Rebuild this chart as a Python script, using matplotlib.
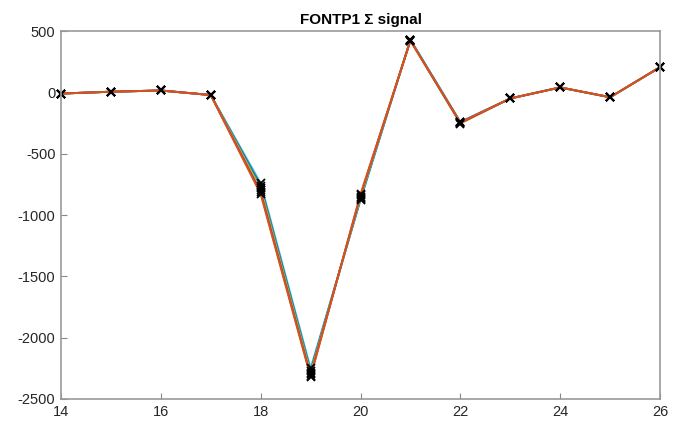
import matplotlib
matplotlib.use("Agg")
import matplotlib.pyplot as plt

plt.rcParams['font.family'] = ['Liberation Sans', 'DejaVu Sans']
plt.rcParams['axes.unicode_minus'] = False

# sample index
x = [14, 15, 16, 17, 18, 19, 20, 21, 22, 23, 24, 25, 26]

# Sigma-signal traces, one per channel
sig_a = [-10, 5, 15, -22, -740, -2250, -880, 430, -240, -50, 40, -40, 205]
sig_b = [-10, 5, 15, -22, -760, -2270, -870, 428, -245, -50, 40, -40, 205]
sig_c = [-10, 5, 15, -22, -780, -2285, -860, 426, -250, -50, 40, -40, 205]
sig_d = [-10, 5, 15, -22, -800, -2300, -850, 424, -255, -50, 40, -40, 205]
sig_e = [-10, 5, 15, -22, -815, -2310, -840, 422, -250, -50, 40, -40, 205]
sig_f = [-10, 5, 15, -22, -830, -2320, -830, 420, -245, -50, 40, -40, 205]

series = [sig_a, sig_b, sig_c, sig_d, sig_e, sig_f]
colors = ['#4DBEEE', '#0072BD', '#77AC30', '#EDB120', '#7E2F8E', '#D95319']

yticks = [500, 0, -500, -1000, -1500, -2000, -2500]
xticks = [14, 16, 18, 20, 22, 24, 26]

fig = plt.figure(figsize=(6.74, 4.22), dpi=100)
ax = fig.add_axes([61/674, 1-399/422, (660-61)/674, (399-31)/422])

for s, c in zip(series, colors):
    ax.plot(x, s, '-', color=c, lw=1.4)
for s in series:
    ax.plot(x, s, 'x', color='black', ms=6, mew=1.3, clip_on=False)

ax.set_xlim(14, 26)
ax.set_ylim(-2500, 500)
ax.set_xticks(xticks)
ax.set_yticks(yticks)
ax.tick_params(direction='in', length=4, color='#888888', labelsize=10.5,
               labelcolor='#262626', pad=4)
for sp in ax.spines.values():
    sp.set_color('#999999')
    sp.set_linewidth(1.2)
ax.set_title('FONTP1 \u03A3 signal', fontsize=11, fontweight='bold', pad=5)

fig.savefig('out.png', dpi=100)
